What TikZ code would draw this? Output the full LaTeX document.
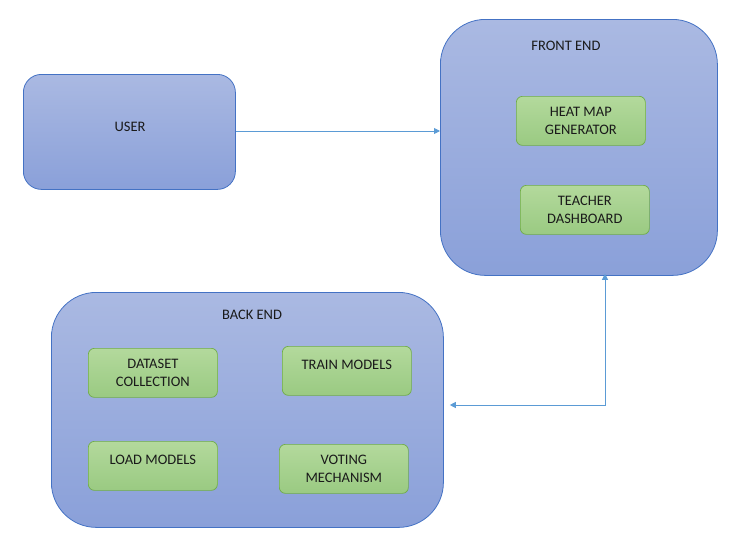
\documentclass[tikz,border=0pt]{standalone}
\usepackage{fontspec}
\setmainfont{Carlito}
\usetikzlibrary{arrows.meta}
\definecolor{bluetop}{HTML}{AAB9E2}
\definecolor{bluebot}{HTML}{8AA0D9}
\definecolor{blueline}{HTML}{4472C4}
\definecolor{greentop}{HTML}{B3D99C}
\definecolor{greenbot}{HTML}{9ACA82}
\definecolor{greenline}{HTML}{70AD47}
\definecolor{arrowcol}{HTML}{5B9BD5}
\definecolor{txt}{HTML}{1A1A1A}
\tikzset{
  bigbox/.style={draw=blueline, line width=0.8pt, top color=bluetop, bottom color=bluebot, anchor=north west, inner sep=0pt},
  subbox/.style={draw=greenline, line width=0.7pt, top color=greentop, bottom color=greenbot, rounded corners=6pt, minimum width=129pt, minimum height=49pt, anchor=north west, align=center, text=txt, font=\fontsize{14.5}{17.5}\selectfont, inner sep=0pt},
  lbl/.style={text=txt, font=\fontsize{14.5}{17.5}\selectfont, inner sep=0pt},
  conn/.style={draw=arrowcol, line width=0.9pt, -{Triangle[width=6pt,length=6pt]}},
  conn2/.style={draw=arrowcol, line width=0.9pt, {Triangle[width=6pt,length=6pt]}-{Triangle[width=6pt,length=6pt]}}
}
\begin{document}
\begin{tikzpicture}[x=1pt,y=-1pt]
\useasboundingbox (0,0) rectangle (747,549);
\node[bigbox, rounded corners=18pt, minimum width=212pt, minimum height=115pt] (user) at (23,74) {};
\node[lbl] (userl) at (130,127) {USER};
\node[bigbox, rounded corners=45pt, minimum width=277pt, minimum height=256pt] (fe) at (440,19) {};
\node[lbl] (fel) at (566,46) {FRONT END};
\node[bigbox, rounded corners=45pt, minimum width=392pt, minimum height=235pt] (be) at (51,292) {};
\node[lbl] (bel) at (252,315) {BACK END};
\node[subbox] (heat) at (516,96) {HEAT MAP\\GENERATOR};
\node[subbox] (teach) at (520,185) {TEACHER\\DASHBOARD};
\node[subbox] (data) at (88,348) {DATASET\\COLLECTION};
\node[subbox] (train) at (282,346) {TRAIN MODELS\\[-5pt]\mbox{}};
\node[subbox] (load) at (88,441) {LOAD MODELS\\[-5pt]\mbox{}};
\node[subbox] (vote) at (279,444) {VOTING\\MECHANISM};
\coordinate (corner) at (605,405);
\draw[conn] (user.east |- 0,131) -- (fe.west |- 0,131);
\draw[conn2] ([xshift=6pt]be.east |- corner) -- (corner) -- ([yshift=2pt]fe.south -| corner);
\end{tikzpicture}
\end{document}
